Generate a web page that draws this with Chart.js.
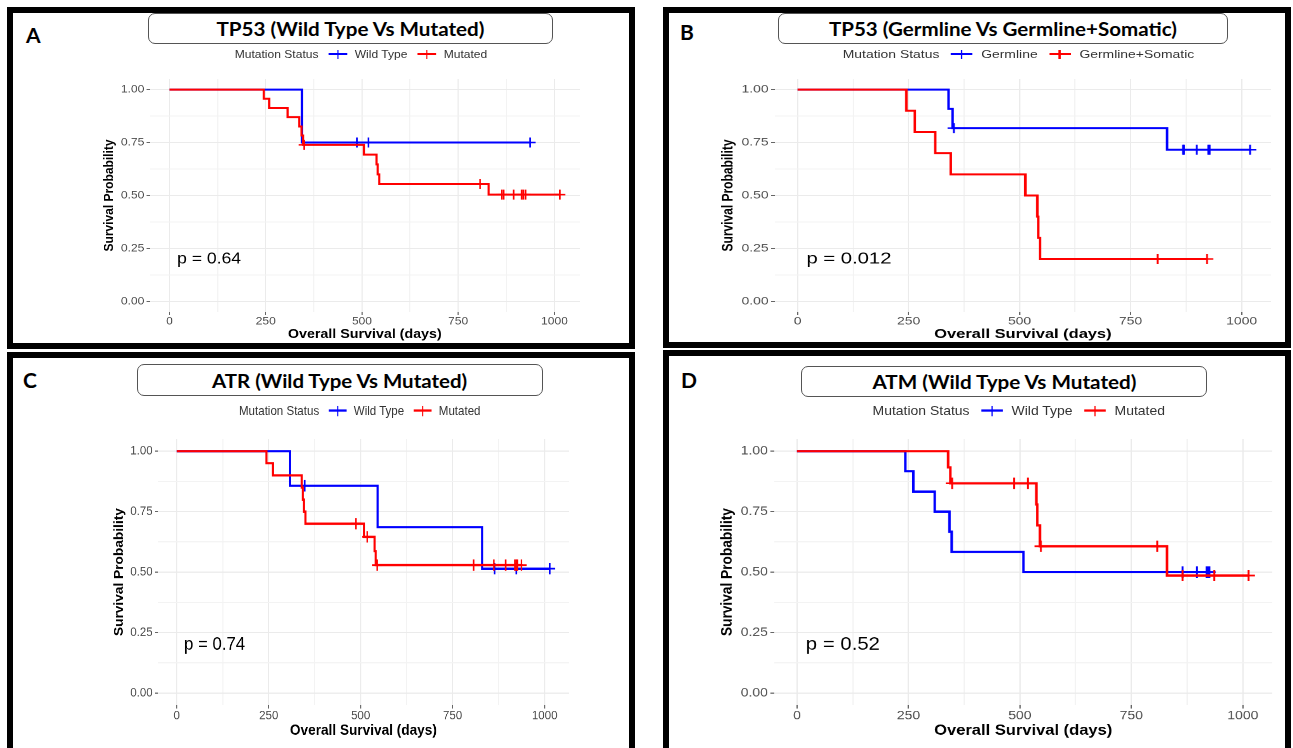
<!DOCTYPE html>
<html>
<head>
<meta charset="utf-8">
<script src="https://cdn.jsdelivr.net/npm/chart.js@4.4.1/dist/chart.umd.min.js"></script>
<style>
  html, body { margin: 0; padding: 0; background: #fff; }
  body { width: 1293px; height: 748px; position: relative; overflow: hidden; font-family: 'Liberation Sans', Arial, sans-serif; }
  .frame { position: absolute; box-sizing: border-box; border: 6px solid #000; }
  .letter { position: absolute; font: bold 21px/21px Lato, sans-serif; color: #000; }
  .titlebox { position: absolute; box-sizing: border-box; border: 1.5px solid #555; border-radius: 7px; background: #fff; display: flex; align-items: center; justify-content: center; }
  .titlebox span { font: bold 19px/1 Lato, sans-serif; white-space: nowrap; display: inline-block; color: #000; }
  .plot { position: absolute; width: 470px; height: 320px; transform-origin: 0 0; }
  .plot canvas { position: absolute; left: 16px; top: 40px; }
  .legend { position: absolute; left: 0; top: 18px; width: 505px; height: 14px; display: flex; justify-content: center; align-items: center; font-size: 11px; line-height: 14px; color: #333; white-space: nowrap; }
  .key { position: relative; display: inline-block; width: 17px; height: 10px; margin: 0 7px 0 9px; }
  .key::before { content: ''; position: absolute; left: 0; right: 0; top: 4px; height: 2px; background: var(--c); }
  .key::after { content: ''; position: absolute; left: 7.75px; top: 0.5px; width: 1.5px; height: 9px; background: var(--c); }
</style>
</head>
<body>
<script>
// Text
const panelLetters = ['A', 'B', 'C', 'D'];
const panelTitles = [
  'TP53 (Wild Type Vs Mutated)',
  'TP53 (Germline Vs Germline+Somatic)',
  'ATR (Wild Type Vs Mutated)',
  'ATM (Wild Type Vs Mutated)'
];
const legendTitle = 'Mutation Status';
const groupLabels = [
  ['Wild Type', 'Mutated'],
  ['Germline', 'Germline+Somatic'],
  ['Wild Type', 'Mutated'],
  ['Wild Type', 'Mutated']
];
const pValues = ['p = 0.64', 'p = 0.012', 'p = 0.74', 'p = 0.52'];
const xTitle = 'Overall Survival (days)';
const yTitle = 'Survival Probability';

// Axis ticks
const xTickValues = [0, 250, 500, 750, 1000];
const xTickLabels = ['0', '250', '500', '750', '1000'];
const yTickValues = [0, 0.25, 0.5, 0.75, 1];
const yTickLabels = ['0.00', '0.25', '0.50', '0.75', '1.00'];

// A: TP53 wild type vs mutated
const tp53WtTime = [0, 344, 937];
const tp53WtSurv = [1, 0.75, 0.75];
const tp53WtCensor = [487, 517, 937];
const tp53MutTime = [0, 245, 259, 307, 337, 343, 347, 505, 538, 541, 545, 829, 1014];
const tp53MutSurv = [1, 0.957, 0.913, 0.870, 0.826, 0.783, 0.739, 0.693, 0.647, 0.600, 0.554, 0.504, 0.504];
const tp53MutCensor = [350, 807, 863, 868, 894, 915, 919, 925, 1014];

// B: TP53 germline vs germline+somatic
const germTime = [0, 340, 349, 832, 1019];
const germSurv = [1, 0.909, 0.818, 0.716, 0.716];
const germCensor = [352, 868, 870, 899, 925, 928, 1019];
const germSomTime = [0, 245, 264, 310, 345, 513, 540, 542, 546, 922];
const germSomSurv = [1, 0.9, 0.8, 0.7, 0.6, 0.5, 0.4, 0.3, 0.2, 0.2];
const germSomCensor = [811, 922];

// C: ATR wild type vs mutated
const atrWtTime = [0, 308, 546, 830, 1014];
const atrWtSurv = [1, 0.857, 0.686, 0.514, 0.514];
const atrWtCensor = [348, 864, 923, 1014];
const atrMutTime = [0, 244, 261, 340, 343, 346, 350, 509, 538, 541, 937];
const atrMutSurv = [1, 0.95, 0.90, 0.85, 0.80, 0.75, 0.70, 0.646, 0.587, 0.529, 0.529];
const atrMutCensor = [487, 518, 545, 807, 862, 894, 919, 923, 926, 937];

// D: ATM wild type vs mutated
const atmWtTime = [0, 243, 261, 309, 342, 347, 508, 925];
const atmWtSurv = [1, 0.917, 0.833, 0.75, 0.667, 0.583, 0.5, 0.5];
const atmWtCensor = [865, 897, 919, 922, 925];
const atmMutTime = [0, 339, 344, 537, 539, 545, 830, 1013];
const atmMutSurv = [1, 0.933, 0.867, 0.780, 0.693, 0.607, 0.486, 0.486];
const atmMutCensor = [348, 487, 518, 547, 808, 865, 936, 1013];

const panelSeries = [
  [[tp53WtTime, tp53WtSurv, tp53WtCensor], [tp53MutTime, tp53MutSurv, tp53MutCensor]],
  [[germTime, germSurv, germCensor], [germSomTime, germSomSurv, germSomCensor]],
  [[atrWtTime, atrWtSurv, atrWtCensor], [atrMutTime, atrMutSurv, atrMutCensor]],
  [[atmWtTime, atmWtSurv, atmWtCensor], [atmMutTime, atmMutSurv, atmMutCensor]]
];
const groupColors = ['#0000ff', '#ff0000'];

// Layout on the page
const frames = [[7, 7, 628, 342], [663, 7, 628, 341], [7, 352, 628, 420], [663, 350, 628, 420]];
const letterPos = [[26, 24], [680, 21], [23, 369], [681, 369]];
const titleBoxes = [[148, 13, 405, 31], [778, 13, 450, 31], [137, 364, 406, 32], [801, 366, 406, 31]];
const titleWidths = [268, 348, 255, 264];
const plotRects = [[150, 79, 580, 312], [775, 79, 1271, 312], [158, 439, 569, 705], [774, 439, 1272, 705]];

// every panel is the same ggplot, resized: this is its base size
const BASE_W = 392, BASE_H = 233, BASE_LEFT = 60, BASE_TOP = 50;

Chart.defaults.font.family = "'Liberation Sans', Arial, sans-serif";

function stepValue(times, surv, t) {
  let s = surv[0];
  times.forEach((tt, i) => { if (tt <= t) s = surv[i]; });
  return s;
}

const pvalPlugin = {
  id: 'pvalue',
  afterDatasetsDraw(chart, args, opts) {
    const { ctx, scales: { x, y } } = chart;
    ctx.save();
    ctx.font = "16px 'Liberation Sans', Arial, sans-serif";
    ctx.fillStyle = '#000';
    ctx.textBaseline = 'middle';
    ctx.textAlign = 'left';
    ctx.fillText(opts.text, x.getPixelForValue(20), y.getPixelForValue(0.2));
    ctx.restore();
  }
};

function withMinors(major) {
  const out = [];
  major.forEach((v, i) => {
    out.push(v);
    if (i < major.length - 1) out.push((v + major[i + 1]) / 2);
  });
  return out;
}
const xGrid = withMinors(xTickValues);
const yGrid = withMinors(yTickValues);

function gridColor(majors) {
  return ctx => (ctx.tick && majors.includes(ctx.tick.value)) ? '#ebebeb' : '#f3f3f3';
}
function tickColor(majors) {
  return ctx => (ctx.tick && majors.includes(ctx.tick.value)) ? '#666' : 'rgba(0,0,0,0)';
}

const titleSpans = [];

panelLetters.forEach((letter, i) => {
  const [fx, fy, fw, fh] = frames[i];
  const frame = document.createElement('div');
  frame.className = 'frame';
  Object.assign(frame.style, { left: fx + 'px', top: fy + 'px', width: fw + 'px', height: fh + 'px' });
  document.body.appendChild(frame);

  const box = document.createElement('div');
  box.className = 'titlebox';
  const [bx, by, bw, bh] = titleBoxes[i];
  Object.assign(box.style, { left: bx + 'px', top: by + 'px', width: bw + 'px', height: bh + 'px' });
  const span = document.createElement('span');
  span.textContent = panelTitles[i];
  box.appendChild(span);
  document.body.appendChild(box);
  titleSpans.push([span, titleWidths[i]]);

  const let_ = document.createElement('div');
  let_.className = 'letter';
  let_.textContent = letter;
  let_.style.left = letterPos[i][0] + 'px';
  let_.style.top = letterPos[i][1] + 'px';
  document.body.appendChild(let_);

  // the ggplot part, drawn at base size and stretched into place
  const [L, T, R, B] = plotRects[i];
  const sx = (R - L) / BASE_W, sy = (B - T) / BASE_H;
  const plot = document.createElement('div');
  plot.className = 'plot';
  plot.style.left = (L - BASE_LEFT * sx) + 'px';
  plot.style.top = (T - BASE_TOP * sy) + 'px';
  plot.style.transform = `scale(${sx}, ${sy})`;
  document.body.appendChild(plot);

  const legend = document.createElement('div');
  legend.className = 'legend';
  let html = `<span>${legendTitle}</span>`;
  groupLabels[i].forEach((g, k) => {
    html += `<span class="key" style="--c:${groupColors[k]}"></span><span>${g}</span>`;
  });
  legend.innerHTML = html;
  plot.appendChild(legend);

  const canvas = document.createElement('canvas');
  canvas.width = 446;
  canvas.height = 273;
  plot.appendChild(canvas);

  const datasets = [];
  // red group first so it is drawn on top
  [1, 0].forEach(k => {
    const [times, surv, cens] = panelSeries[i][k];
    datasets.push({
      type: 'scatter',
      label: groupLabels[i][k] + ' censored',
      data: cens.map(t => ({ x: t, y: stepValue(times, surv, t) })),
      pointStyle: 'cross',
      pointRadius: 5,
      borderColor: groupColors[k],
      backgroundColor: groupColors[k],
      borderWidth: 1.5,
      showLine: false
    });
    datasets.push({
      type: 'line',
      label: groupLabels[i][k],
      data: times.map((t, j) => ({ x: t, y: surv[j] })),
      borderColor: groupColors[k],
      borderWidth: 2,
      stepped: 'before',
      pointRadius: 0,
      fill: false
    });
  });

  new Chart(canvas, {
    type: 'line',
    data: { datasets },
    options: {
      responsive: false,
      animation: false,
      devicePixelRatio: 2,
      layout: { padding: { left: 0, top: 10, right: 10, bottom: 0 } },
      plugins: {
        legend: { display: false },
        tooltip: { enabled: false },
        pvalue: { text: pValues[i] }
      },
      scales: {
        x: {
          type: 'linear',
          min: -51,
          max: 1066,
          afterBuildTicks: s => { s.ticks = xGrid.map(v => ({ value: v })); },
          afterFit: s => { s.height = 30; },
          ticks: {
            autoSkip: false,
            maxRotation: 0,
            padding: 0,
            color: '#4d4d4d',
            font: { size: 11 },
            callback: v => { const j = xTickValues.indexOf(v); return j >= 0 ? xTickLabels[j] : ''; }
          },
          grid: { color: gridColor(xTickValues), tickLength: 3, tickColor: tickColor(xTickValues) },
          border: { display: false },
          title: { display: true, text: xTitle, color: '#000', padding: 0, font: { size: 13, weight: 'bold' } }
        },
        y: {
          min: -0.05,
          max: 1.05,
          afterBuildTicks: s => { s.ticks = yGrid.map(v => ({ value: v })); },
          afterFit: s => { s.width = 44; },
          ticks: {
            autoSkip: false,
            padding: 2,
            color: '#4d4d4d',
            font: { size: 11 },
            callback: v => { const j = yTickValues.indexOf(v); return j >= 0 ? yTickLabels[j] : ''; }
          },
          grid: { color: gridColor(yTickValues), tickLength: 3, tickColor: tickColor(yTickValues) },
          border: { display: false },
          title: { display: true, text: yTitle, color: '#000', padding: 0, font: { size: 12, weight: 'bold' } }
        }
      }
    },
    plugins: [pvalPlugin]
  });
});

function fitTitles() {
  titleSpans.forEach(([span, target]) => {
    span.style.transform = 'none';
    const w = span.getBoundingClientRect().width;
    if (w > 0) span.style.transform = `scaleX(${target / w})`;
  });
}
fitTitles();
if (document.fonts) document.fonts.ready.then(fitTitles);
</script>
</body>
</html>
